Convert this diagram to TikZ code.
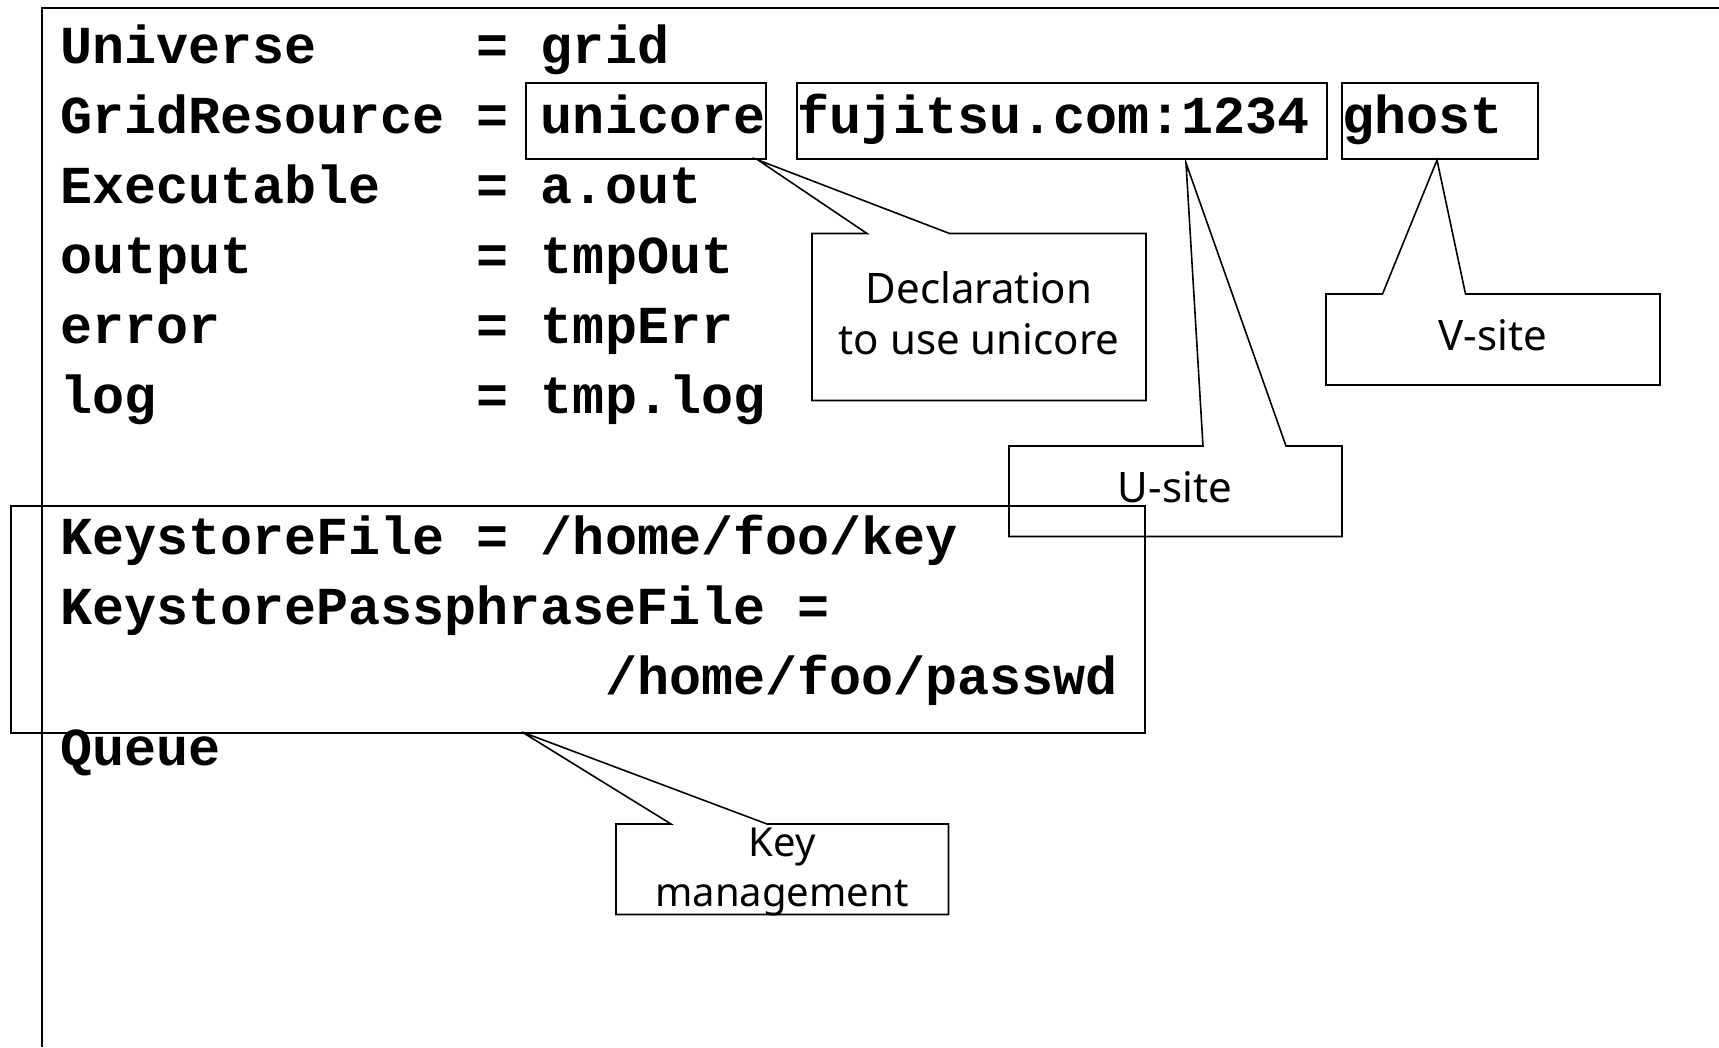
\documentclass[tikz,border=0pt]{standalone}
\usepackage{fontspec}
\setmonofont{Liberation Mono}
\newfontfamily\calloutfont{Noto Sans}
\begin{document}
\begin{tikzpicture}[x=1pt,y=-1pt,
  code/.style={anchor=base west, inner sep=0pt, font=\ttfamily\bfseries\fontsize{53.4}{64}\selectfont},
  boxline/.style={draw=black, line width=2pt},
  thinline/.style={draw=black, line width=1.6pt, line join=miter},
  note/.style={font=\calloutfont\fontsize{42}{51}\selectfont, align=center, inner sep=0pt}]
\useasboundingbox (0,0) rectangle (1719,1047);
% outer frame (open to the right and bottom)
\coordinate (frTR) at (1719,7.7);
\coordinate (frTL) at (41.7,7.7);
\coordinate (frBL) at (41.7,1047);
\draw[boxline] (frTR) -- (frTL) -- (frBL);
% code lines
\node[code] (l1a) at (60,63.5) {Universe};
\node[code] (l1b) at (476.65,63.5) {=};
\node[code] (l1c) at (540.75,63.5) {grid};
\node[code] (l2a) at (60,133.5) {GridResource};
\node[code] (l2b) at (476.65,133.5) {=};
\node[code] (l2c) at (540.75,133.5) {unicore};
\node[code] (l2d) at (797.15,133.5) {fujitsu.com:1234};
\node[code] (l2e) at (1342,133.5) {ghost};
\node[code] (l3a) at (60,203.5) {Executable};
\node[code] (l3b) at (476.65,203.5) {=};
\node[code] (l3c) at (540.75,203.5) {a.out};
\node[code] (l4a) at (60,273.5) {output};
\node[code] (l4b) at (476.65,273.5) {=};
\node[code] (l4c) at (540.75,273.5) {tmpOut};
\node[code] (l5a) at (60,343.5) {error};
\node[code] (l5b) at (476.65,343.5) {=};
\node[code] (l5c) at (540.75,343.5) {tmpErr};
\node[code] (l6a) at (60,413.5) {log};
\node[code] (l6b) at (476.65,413.5) {=};
\node[code] (l6c) at (540.75,413.5) {tmp.log};
\node[code] (l8a) at (60,554) {KeystoreFile};
\node[code] (l8b) at (476.65,554) {=};
\node[code] (l8c) at (540.75,554) {/home/foo/key};
\node[code] (l9a) at (60,624) {KeystorePassphraseFile};
\node[code] (l9b) at (797.15,624) {=};
\node[code] (l10) at (604.85,694) {/home/foo/passwd};
\node[code] (l11) at (60,765) {Queue};
% boxes around values
\draw[thinline] (526,83) rectangle (766,159);
\draw[thinline] (797,83) rectangle (1327,159);
\draw[thinline] (1342,83) rectangle (1538,159);
% keystore box
\draw[thinline] (11,506) rectangle (1145,733);
% callout: Declaration
\draw[thinline] (867,233.5) -- (812,233.5) -- (812,400.5) -- (1146,400.5) -- (1146,233.5) -- (949.5,233.5) -- (758,160) -- cycle;
\node[note] (decl) at (979,313) {Declaration\\to use unicore};
% callout: U-site
\draw[thinline] (1203,446) -- (1009,446) -- (1009,536.5) -- (1342,536.5) -- (1342,446) -- (1286,446) -- (1186,163) -- cycle;
\node[note] (usite) at (1175,487) {U-site};
% callout: V-site
\draw[thinline] (1382.5,294) -- (1326,294) -- (1326,385) -- (1660,385) -- (1660,294) -- (1465.5,294) -- (1437,160) -- cycle;
\node[note] (vsite) at (1493,335) {V-site};
% callout: Key management
\draw[thinline] (671,824) -- (616,824) -- (616,914.5) -- (948.5,914.5) -- (948.5,824) -- (767,824) -- (522,732) -- cycle;
\node[note, font=\calloutfont\fontsize{40}{50}\selectfont] (keym) at (782,872) {Key\\management};
\end{tikzpicture}
\end{document}
